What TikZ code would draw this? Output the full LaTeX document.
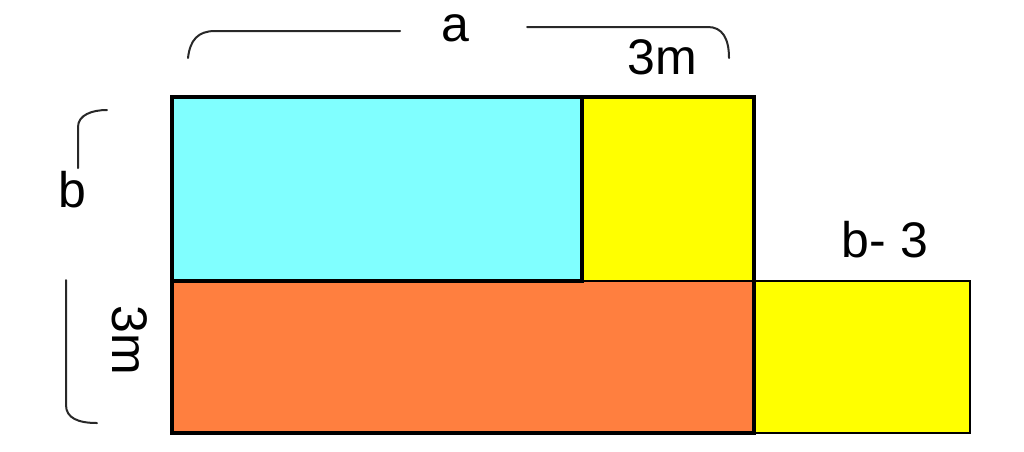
\documentclass[tikz,border=0pt]{standalone}
\usepackage{fontspec}
\setmainfont{Liberation Sans}
\definecolor{areacyan}{RGB}{128,255,255}
\definecolor{areayellow}{RGB}{255,255,0}
\definecolor{areaorange}{RGB}{255,127,63}
\definecolor{bracegray}{RGB}{40,40,40}

\begin{document}
\begin{tikzpicture}[x=1pt,y=-1pt,
    edge/.style={line width=4.5pt,black},
    thinedge/.style={line width=1.8pt,black},
    brace/.style={line width=2pt,bracegray,line cap=round},
    lbl/.style={font=\fontsize{50}{56}\selectfont,inner sep=0pt}]
    \useasboundingbox (0,0) rectangle (1024,451);

    % areas
    \fill[areacyan](172,97) rectangle (582,281);
    \fill[areayellow](582,97) rectangle (754,281);
    \fill[areaorange](172,281) rectangle (754,433);
    \fill[areayellow](754,281) rectangle (970,433);

    % outlines
    \draw[thinedge](754,281) rectangle (970,433);
    \draw[thinedge](582,281)--(754,281);
    \draw[edge](172,281)--(582,281)--(582,97);
    \draw[edge](172,97) rectangle (754,433);

    % braces
    \draw[brace](188,58) .. controls (190,40) and (198,31) .. (215,31) -- (400,31);
    \draw[brace](527,27) -- (708,27) .. controls (722,27) and (729,38) .. (729,58);
    \draw[brace](107,110) .. controls (92,110) and (78,115) .. (78,127) -- (78,168);
    \draw[brace](66,280) -- (66,405) .. controls (66,418) and (78,423) .. (97,423);

    % labels
    \node[lbl](a) at (455,28) {a};
    \node[lbl](topm) at (662,57) {3m};
    \node[lbl](b) at (72,190) {b};
    \node[lbl](bmin) at (885,240) {b- 3};
    \node[lbl,rotate=-90](leftm) at (130,340) {3m};
\end{tikzpicture}
\end{document}
